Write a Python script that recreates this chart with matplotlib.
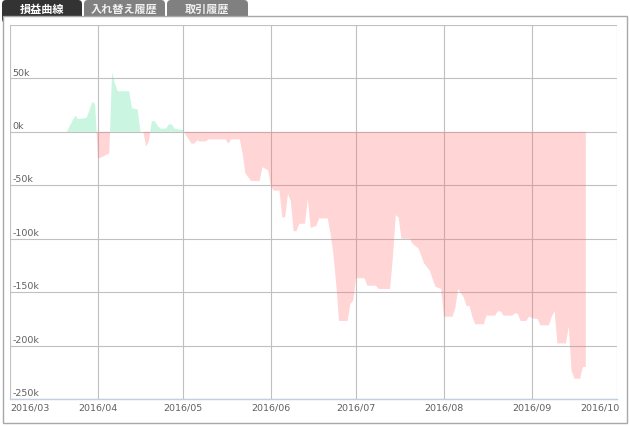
import numpy as np
import pandas as pd
import matplotlib
matplotlib.use('Agg')
import matplotlib.pyplot as plt
import matplotlib.dates as mdates
from matplotlib.patches import FancyBboxPatch, Rectangle

# %% data (P&L curve, in thousand yen)
days = ['03-21', '03-22', '03-23', '03-24', '03-25', '03-28', '03-29', '03-30', '03-31',
        '04-01', '04-03', '04-05', '04-06', '04-07', '04-08', '04-12', '04-13', '04-15',
        '04-16', '04-17', '04-18', '04-19', '04-20', '04-21', '04-22', '04-23', '04-25',
        '04-26', '04-27', '04-28', '04-30', '05-01', '05-02', '05-03', '05-04', '05-05',
        '05-06', '05-07', '05-09', '05-10', '05-16', '05-17', '05-18', '05-21', '05-22',
        '05-23', '05-25', '05-28', '05-29', '05-31', '06-01', '06-02', '06-04', '06-05',
        '06-06', '06-07', '06-08', '06-09', '06-10', '06-11', '06-13', '06-14', '06-15',
        '06-17', '06-18', '06-21', '06-22', '06-23', '06-24', '06-25', '06-28', '06-29',
        '06-30', '07-01', '07-04', '07-05', '07-08', '07-09', '07-13', '07-14', '07-15',
        '07-16', '07-17', '07-20', '07-21', '07-23', '07-25', '07-27', '07-29', '07-31',
        '08-01', '08-04', '08-05', '08-06', '08-08', '08-09', '08-10', '08-11', '08-12',
        '08-15', '08-16', '08-19', '08-20', '08-21', '08-22', '08-25', '08-26', '08-27',
        '08-28', '08-30', '08-31', '09-02', '09-03', '09-04', '09-07', '09-08', '09-09',
        '09-10', '09-13', '09-14', '09-15', '09-16', '09-18', '09-19', '09-20']
pnl_k = [0, 5, 10, 15, 12, 13, 20, 28, 26,
         -25, -23, -20, 56, 45, 38, 38, 22, 21,
         0, 0, -14, -8, 10, 10, 6, 3, 3,
         7, 7, 3, 2, 2, -3, -7, -11, -11,
         -8, -9, -9, -7, -7, -11, -7, -7, -20,
         -39, -46, -46, -33, -36, -51, -55, -55, -80,
         -80, -58, -65, -93, -93, -86, -86, -63, -90,
         -88, -81, -81, -95, -114, -142, -177, -177, -161,
         -158, -137, -137, -144, -144, -147, -147, -117, -78,
         -80, -100, -100, -105, -109, -123, -130, -145, -147,
         -173, -173, -165, -147, -155, -163, -163, -173, -180,
         -180, -172, -172, -168, -168, -172, -172, -170, -170,
         -177, -177, -173, -175, -175, -181, -181, -173, -168,
         -198, -198, -182, -224, -231, -231, -220, -220]
months = ['2016-03', '2016-04', '2016-05', '2016-06', '2016-07', '2016-08', '2016-09', '2016-10']
yticks_k = [50, 0, -50, -100, -150, -200, -250]
tabs = ['損益曲線', '入れ替え履歴', '取引履歴']

dates = pd.to_datetime(['2016-' + d for d in days])
vals = np.array(pnl_k) * 1000.0
month_dates = pd.to_datetime(months)

# %% figure
W, H = 630, 427
fig = plt.figure(figsize=(W / 100, H / 100), dpi=100)

def fx(x):
    return x / W

def fy(y):
    return 1 - y / H

# tabs
tab_x = [(2, 82), (84, 165), (167, 248)]
for i, (name, (x0, x1)) in enumerate(zip(tabs, tab_x)):
    col = '#333333' if i == 0 else '#808080'
    p = FancyBboxPatch((x0 / 100, (H - 24) / 100), (x1 - x0) / 100, 23 / 100,
                       boxstyle='round,pad=0,rounding_size=0.04',
                       transform=fig.dpi_scale_trans, fc=col, ec='none', zorder=0)
    fig.add_artist(p)
    fig.text(fx((x0 + x1) / 2), fy(9), name, color='white' if i == 0 else '#f0f0f0',
             fontsize=8, fontweight='bold', ha='center', va='center',
             family=['Noto Sans CJK JP', 'DejaVu Sans'], zorder=3)

# panel
panel = Rectangle((fx(3), fy(424)), fx(624), (424 - 17) / H, transform=fig.transFigure,
                  fc='white', ec='#a8a8a8', lw=1, zorder=1)
fig.add_artist(panel)

ax = fig.add_axes([fx(10), fy(400), fx(607), (400 - 26) / H])
ax.set_zorder(2)
ax.patch.set_alpha(0)

ax.fill_between(dates, vals, 0, where=vals >= 0, interpolate=True,
                color='#50e09a', alpha=0.3, lw=0)
ax.fill_between(dates, vals, 0, where=vals <= 0, interpolate=True,
                color='#ff6a6a', alpha=0.28, lw=0)

ax.set_xlim(month_dates[0], month_dates[-1])
ax.set_ylim(-250000, 100000)
ax.set_yticks(np.arange(-250000, 100001, 50000))
ax.set_xticks(month_dates)
ax.grid(True, color='#c0c0c0', lw=0.8)
ax.set_axisbelow(True)
ax.tick_params(length=0, labelleft=False, labelbottom=False)
for s in ['left', 'right', 'top']:
    ax.spines[s].set_visible(False)
ax.spines['bottom'].set_color('#c0d0e0')
ax.spines['bottom'].set_linewidth(1)

for v in yticks_k:
    ax.text(0.004, v * 1000 + 1800, f'{v}k', transform=ax.get_yaxis_transform(),
            fontsize=6.8, color='#606060', ha='left', va='bottom')

n = len(month_dates)
for i, md in enumerate(month_dates):
    ha = 'left' if i == 0 else ('right' if i == n - 1 else 'center')
    xoff = 3 if i == n - 1 else 0
    ax.annotate(md.strftime('%Y/%m'), (mdates.date2num(md), 0),
                xycoords=ax.get_xaxis_transform(),
                xytext=(xoff, -8), textcoords='offset pixels',
                fontsize=6.8, color='#606060', ha=ha, va='center')

fig.savefig('out.png', dpi=100)
